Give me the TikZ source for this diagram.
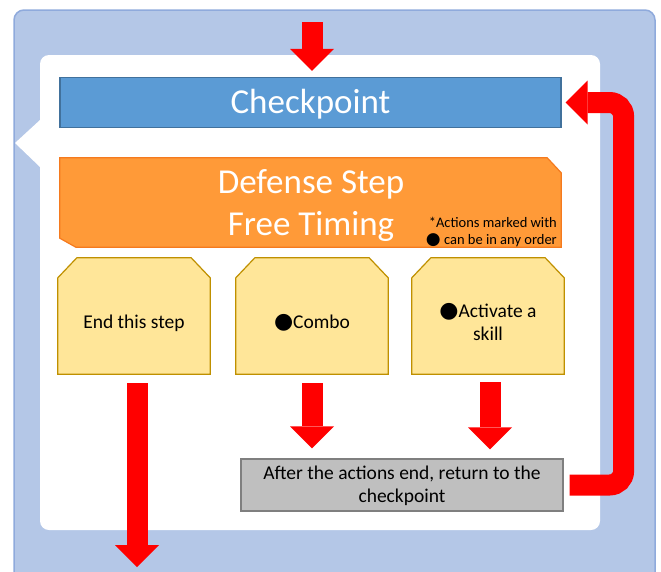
\documentclass[tikz,border=0pt]{standalone}
\usepackage{fontspec}
\setmainfont{Carlito}
\newfontfamily\symfont{DejaVu Sans}
\usetikzlibrary{arrows.meta,calc}
\definecolor{outerblue}{HTML}{B4C7E7}
\definecolor{outerline}{HTML}{8FAADC}
\definecolor{cpfill}{HTML}{5B9BD5}
\definecolor{cpline}{HTML}{41719C}
\definecolor{orfill}{HTML}{FF9A38}
\definecolor{orline}{HTML}{F57A1E}
\definecolor{yfill}{HTML}{FFE699}
\definecolor{yline}{HTML}{BF9000}
\definecolor{gfill}{HTML}{BFBFBF}
\definecolor{gline}{HTML}{7F7F7F}
\definecolor{arrred}{HTML}{FF0000}
\newcommand{\bigbul}{{\symfont\fontsize{22}{22}\selectfont ●}}
\newcommand{\smallbul}{{\symfont\fontsize{17}{17}\selectfont ●}}
\newcommand{\topcham}[1]{%
  \filldraw[yshape] ($(#1.north west)+(0,20)$) -- ($(#1.north west)+(19,0)$) -- ($(#1.north east)+(-19,0)$) -- ($(#1.north east)+(0,20)$) -- (#1.south east) -- (#1.south west) -- cycle;}
\begin{document}
\begin{tikzpicture}[x=1pt,y=-1pt,
  bigarrow/.style={draw=arrred, line width=21pt, -{Triangle[width=44pt,length=22pt,line width=0pt]}},
  cpbox/.style={draw=cpline, fill=cpfill, line width=1.2pt, minimum width=501pt, minimum height=50pt, inner sep=0pt, text=white, text depth=2pt, font=\fontsize{35}{40}\selectfont},
  frame/.style={minimum width=#1, inner sep=0pt},
  orshape/.style={draw=orline, fill=orfill, line width=1.2pt},
  yshape/.style={draw=yline, fill=yfill, line width=1.2pt},
  gbox/.style={draw=gline, fill=gfill, line width=1.2pt, minimum width=322pt, minimum height=52pt, inner sep=0pt},
  bigtxt/.style={text=white, align=center, font=\fontsize{35}{42}\selectfont, inner sep=0pt},
  boxtxt/.style={text=black, align=center, font=\fontsize{19.5}{23}\selectfont, inner sep=0pt},
  notetxt/.style={text=black, align=right, font=\fontsize{14.5}{17}\selectfont, inner sep=0pt}
]
\useasboundingbox (0,0) rectangle (661,571);
% background frames
\fill[outerblue, draw=outerline, line width=1.5pt, rounded corners=10pt] (14,10) rectangle (655,590);
\fill[white, rounded corners=9pt] (40,55) rectangle (600,530);
\fill[white] (40,120) -- (15,143) -- (40,167) -- cycle;
% nodes
\node[cpbox] (cp) at (310.5,102.5) {Checkpoint};
\node[frame=501pt, minimum height=89pt] (def) at (310.5,202.5) {};
\filldraw[orshape] (def.north west) -- ($(def.north east)+(-14,0)$) -- ($(def.north east)+(0,15)$) -- (def.south east) -- ($(def.south west)+(16,0)$) -- ($(def.south west)+(0,-9)$) -- cycle;
\node[bigtxt] (deftxt) at (311,206) {Defense Step\\Free Timing};
\node[notetxt, anchor=east] (note) at (557,232) {*Actions marked with\\\smallbul\ can be in any order};
\node[frame=152pt, minimum height=116pt] (b1) at (134,316) {};
\node[frame=152pt, minimum height=116pt] (b2) at (312,316) {};
\node[frame=152pt, minimum height=116pt] (b3) at (488,316) {};
\topcham{b1}
\topcham{b2}
\topcham{b3}
\node[boxtxt] (t1) at ([yshift=-7pt]b1.center) {End this step};
\node[boxtxt] (t2) at ([yshift=-7pt]b2.center) {\bigbul Combo};
\node[boxtxt] (t3) at ([yshift=-6pt]b3.center) {\bigbul Activate a\\skill};
\node[gbox] (gr) at (402,485) {};
\node[boxtxt] (grtxt) at (402,486) {After the actions end, return to the\\checkpoint};
% free ends
\coordinate (entry) at (312,22);
\coordinate (exit) at (137,567);
% connectors
\draw[bigarrow] (entry) -- ([yshift=6pt]cp.north -| entry);
\draw[bigarrow] ([yshift=-9pt]b1.south -| exit) -- (exit);
\draw[bigarrow] ([yshift=-9pt]b2.south) -- ([yshift=10pt]gr.north -| b2.south);
\draw[bigarrow] ([yshift=-8pt]b3.south -| 490,0) -- ([yshift=9pt]gr.north -| 490,0);
\draw[bigarrow, rounded corners=14pt] ([xshift=6pt]gr.east) -- ++(54,0) |- ([xshift=4pt]cp.east);
\end{tikzpicture}
\end{document}
